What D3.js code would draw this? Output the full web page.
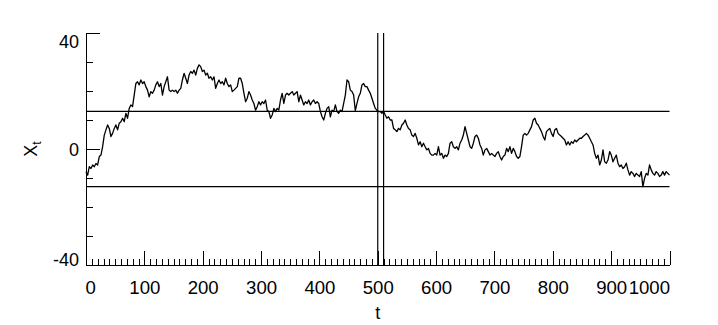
<!DOCTYPE html>
<html>
<head>
<meta charset="utf-8">
<script src="https://cdn.jsdelivr.net/npm/d3@7"></script>
<style>
  html, body { margin: 0; padding: 0; background: #fff; }
  svg { display: block; font-family: Arial, "Liberation Sans", sans-serif; }
</style>
</head>
<body>
<script>
// X_t, evenly spaced in t from tStart to tEnd
const tStart = 0;
const tEnd = 1000;
const xtValues = [
  -7.8, -9, -6.1, -6.7, -5.5, -6.1, -5, -5.5, -2.6, -2.1, 0.8, 4.8, 6.6, 8.3, 7.1, 4.3, 5.4, 7.1, 8.3, 6.6,
  8.9, 9.4, 10.6, 9.4, 12.3, 10.6, 14, 15.2, 14.6, 18.6, 22.6, 23.2, 22.1, 23.8, 22.6, 23.2, 21.5, 20.3, 18, 19.8,
  19.2, 20.3, 22.1, 23.2, 21.5, 22.6, 18.6, 21.5, 23.2, 24.9, 20.3, 19.8, 20.3, 19.8, 20.3, 19.2, 20.3, 20.9, 23.8, 26.1,
  24.4, 22.6, 25.5, 26.7, 26.1, 27.2, 25.5, 27.8, 29,
  28.4, 26.7, 27.2, 25.5, 26.1, 24.4, 24.9, 23.8, 24.9, 20.9, 22.6, 23.8, 22.6, 23.2, 22.1, 24.4, 22.6, 21.5, 22.1, 19.8,
  20.3, 20.9, 21.5, 24.4, 24.4, 22.6, 19.2, 16.3, 17.5, 19.8, 18.6, 16.9, 15.7, 13.4, 14.6, 16.3, 15.2, 16.3, 15.7, 16.9,
  13.4, 12.9, 10.6, 11.7, 14, 12.9, 14, 13.4, 16.9, 19.2, 15.7, 18.6, 19.2, 18.6, 19.2, 19.8, 18.6, 19.2, 19.8, 16.3,
  18.6, 16.9, 15.2, 16.3, 15.7, 16.9, 15.2, 16.3, 16.9, 15.7,
  16.3, 15.7, 12.9, 11.1, 10, 12.3, 14, 14.6, 11.1, 13.4, 12.9, 15.2, 12.9, 12.3, 13.4, 12.9, 15.7, 18.6, 23.8, 23.2,
  20.3, 19.8, 18.6, 13.2, 15.7, 18, 19.2, 22.1, 22.6, 21.5, 21.5, 20.3, 19.2, 17.5, 15.7, 14, 13.4, 12.9, 12.9, 12.3,
  12.9, 11.7, 10.6, 11.1, 10, 10, 7.1, 6.6, 6, 7.1, 6.6, 8.3, 8.9, 10, 8.3, 7.1, 6.6, 4.8, 4.3, 5.4,
  3.7, 1.4, 2.5, 0.8, 2, 0.8, -0.3, 0.2, -1.5, -2.1,
  -2.1, -1.5, -2.1, 0.8, -2.1, -1.5, -3.2, -2.1, -2.6, -1.5, 2, 2.5, 0.8, 0.2, 0.8, -0.3, 2, 3.1, 4.8, 7.7,
  5.4, 3.1, 0.8, 0.2, 2, 4.3, 4.8, 3.7, 1.4, 0.2, -2.1, -0.3, 0.2, -0.9, -2.1, -1.5, -2.1, -2.6, -1.5, -0.9,
  -2.6, -3.8, -2.6, -2.1, 0.2, -0.9, 0.8, -1.5, 0.2, -0.9, -2.6, -3.2, -2.6, 0.8, 4.8, 5.4, 4.8, 5.4, 6.6, 7.7,
  10, 10.6, 8.9, 8.3, 7.1, 6, 4.3, 3.1, 6, 6.6,
  7.1, 5.4, 4.3, 6.6, 7.1, 5.4, 4.8, 4.3, 3.7, 3.1, 1.4, 2.5, 1.4, 2.5, 2, 3.1, 2.5, 3.1, 3.7, 3.7,
  4.3, 4.8, 5.4, 4.8, 3.7, 2.5, 1.4, -1.5, -3.2, -2.1, -5.5, -3.8, -0.3, -4.4, -4.9, -3.8, -0.9, -2.1, -4.4, -3.2,
  -2.1, -4.9, -6.1, -5.5, -6.7, -6.1, -4.9, -7.2, -9, -7.8, -8.4, -9.5, -8.4, -9, -9.5, -7.8, -13, -10.1, -8.4, -9,
  -5.5, -7.2, -8.4, -9, -7.8, -8.4, -9.5, -9, -7.8, -9, -7.8, -8.4, -9
];

// Axis ticks and reference lines
const xMajorTicks = [0, 100, 200, 300, 400, 500, 600, 700, 800, 900, 1000];
const yMajorTicks = [-40, 0, 40];
const bandLevels = [13, -13];
const markTimes = [500, 510];

class Chart {
  constructor() {
    this.init();
  }

  init() {
    this.width = 718;
    this.height = 325;
    this.left = 86;
    this.right = 669.5;
    this.top = 33;
    this.bottom = 265;

    this.svg = d3.select('body').append('svg')
      .attr('width', this.width)
      .attr('height', this.height);

    this.x = d3.scaleLinear().domain([tStart, tEnd]).range([this.left, this.right]);
    this.y = d3.scaleLinear().domain([-40, 40]).range([this.bottom, this.top]);

    this.drawAxes();
    this.drawRefLines();
    this.drawSeries();
    this.drawTitles();
  }

  drawAxes() {
    const x = this.x, y = this.y;
    const styleAxis = size => g => {
      g.selectAll('path, line').attr('stroke', '#000').attr('shape-rendering', 'crispEdges');
      g.selectAll('text').attr('font-family', 'Arial, "Liberation Sans", sans-serif')
        .attr('font-size', size).attr('fill', '#000');
    };

    // Minor ticks every 10 on t, inward
    this.svg.append('g')
      .attr('transform', `translate(0,${this.bottom})`)
      .call(d3.axisBottom(x).tickValues(d3.range(0, 1001, 10)).tickSize(-6).tickSizeOuter(0).tickFormat(''))
      .call(styleAxis(18));

    const xg = this.svg.append('g')
      .attr('transform', `translate(0,${this.bottom})`)
      .call(d3.axisBottom(x).tickValues(xMajorTicks).tickSize(-14).tickSizeOuter(0).tickPadding(16).tickFormat(d => String(d)))
      .call(styleAxis(18.6));
    // first and last labels sit inside the axis ends
    xg.selectAll('.tick text')
      .attr('text-anchor', d => d === 0 ? 'start' : d === 1000 ? 'end' : 'middle')
      .attr('x', d => d === 0 ? -1 : 0);

    // Minor ticks every 10 on X_t
    this.svg.append('g')
      .attr('transform', `translate(${this.left},0)`)
      .call(d3.axisLeft(y).tickValues(d3.range(-40, 41, 10)).tickSize(-7).tickSizeOuter(0).tickFormat(''))
      .call(styleAxis(18));

    const yg = this.svg.append('g')
      .attr('transform', `translate(${this.left},0)`)
      .call(d3.axisLeft(y).tickValues(yMajorTicks).tickSize(-14).tickSizeOuter(0).tickPadding(7).tickFormat(d => String(d)))
      .call(styleAxis(18));
    yg.selectAll('.tick text')
      .attr('dy', d => d === 40 ? '0.8em' : d === -40 ? '0em' : '0.36em');
  }

  drawRefLines() {
    this.svg.append('g').selectAll('line')
      .data(bandLevels)
      .join('line')
      .attr('x1', this.left).attr('x2', this.right)
      .attr('y1', d => this.y(d)).attr('y2', d => this.y(d))
      .attr('stroke', '#000').attr('stroke-width', 1.2);

    this.svg.append('g').selectAll('line')
      .data(markTimes)
      .join('line')
      .attr('x1', d => this.x(d)).attr('x2', d => this.x(d))
      .attr('y1', this.top).attr('y2', this.bottom)
      .attr('stroke', '#000').attr('stroke-width', 1.2);
  }

  drawSeries() {
    const step = (tEnd - tStart) / (xtValues.length - 1);
    const line = d3.line()
      .x((d, i) => this.x(tStart + i * step))
      .y(d => this.y(d));

    this.svg.append('path')
      .datum(xtValues)
      .attr('d', line)
      .attr('fill', 'none')
      .attr('stroke', '#000')
      .attr('stroke-width', 1.3)
      .attr('stroke-linejoin', 'round');
  }

  drawTitles() {
    const cx = (this.left + this.right) / 2;
    this.svg.append('text')
      .attr('x', cx).attr('y', 319)
      .attr('text-anchor', 'middle')
      .attr('font-size', 18)
      .text('t');

    const yt = this.svg.append('text')
      .attr('transform', `translate(37,${(this.top + this.bottom) / 2}) rotate(-90)`)
      .attr('text-anchor', 'middle')
      .attr('font-size', 18);
    yt.append('tspan').text('X');
    yt.append('tspan').attr('font-size', 12).attr('dy', 4).text('t');
  }
}

let chart = new Chart();
</script>
</body>
</html>
